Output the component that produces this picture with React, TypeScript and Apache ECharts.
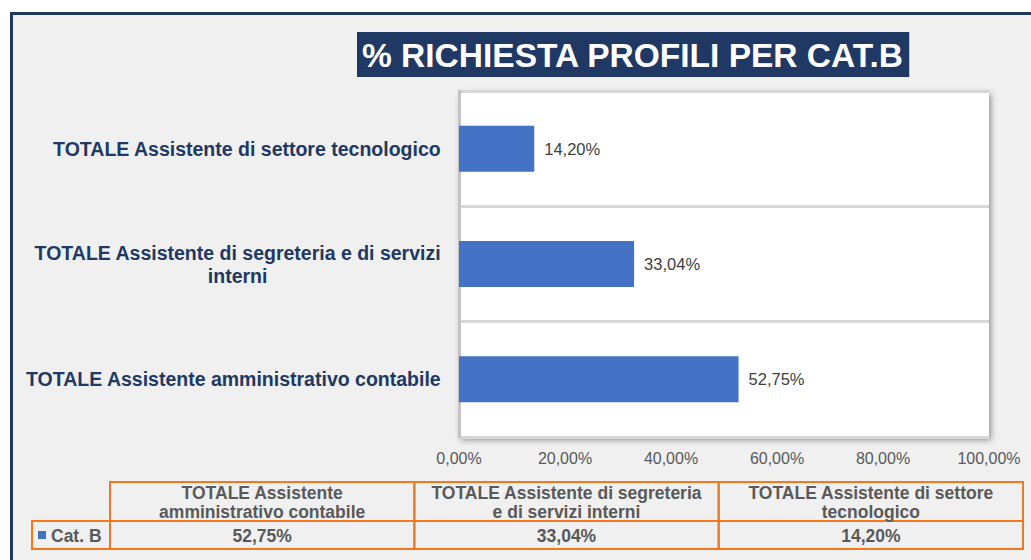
import React, { useEffect, useRef } from "react";
import * as echarts from "echarts";

const categories = [
  "TOTALE Assistente amministrativo contabile",
  "TOTALE Assistente di segreteria e di servizi interni",
  "TOTALE Assistente di settore tecnologico",
];
const seriesName = "Cat. B";
const values = [52.75, 33.04, 14.2];
const axisMin = 0;
const axisMax = 100;
const axisStep = 20;
const titleText = "% RICHIESTA PROFILI PER CAT.B";

const NAVY = "#203864";
const BLUE = "#4472C4";
const ORANGE = "#F8761C";
const GRAY = "#595959";
const FONT = "'Liberation Sans', Arial, sans-serif";

const fmtPct = (v: number) => v.toFixed(2).replace(".", ",") + "%";

function wrap(text: string, font: string, maxW: number): string[] {
  const ctx = document.createElement("canvas").getContext("2d")!;
  ctx.font = font;
  const words = text.split(" ");
  const lines: string[] = [];
  let cur = "";
  for (const w of words) {
    const t = cur ? cur + " " + w : w;
    if (cur && ctx.measureText(t).width > maxW) {
      lines.push(cur);
      cur = w;
    } else cur = t;
  }
  if (cur) lines.push(cur);
  return lines;
}

export default function App() {
  const ref = useRef<HTMLDivElement>(null);
  useEffect(() => {
    document.body.style.margin = "0";
    const chart = echarts.init(ref.current!, null, { renderer: "svg" });

    const tableX = 110;
    const tableRight = 1023;
    const colW = (tableRight - tableX) / categories.length;
    const hdrTop = 482;
    const hdrH = 39;
    const rowH = 28;
    const keyX = 32;
    const tFont = `bold 17.5px ${FONT}`;

    const graphics: any[] = [];
    categories.forEach((c, i) => {
      const x = tableX + i * colW;
      graphics.push({
        type: "rect",
        shape: { x, y: hdrTop, width: colW, height: hdrH },
        style: { fill: "none", stroke: ORANGE, lineWidth: 2 },
      });
      graphics.push({
        type: "rect",
        shape: { x, y: hdrTop + hdrH, width: colW, height: rowH },
        style: { fill: "none", stroke: ORANGE, lineWidth: 2 },
      });
      graphics.push({
        type: "text",
        x: x + colW / 2,
        y: hdrTop + hdrH / 2 + 1,
        style: {
          text: wrap(c, tFont, 282).join("\n"),
          font: tFont,
          fill: GRAY,
          align: "center",
          verticalAlign: "middle",
          lineHeight: 19,
        },
      });
      graphics.push({
        type: "text",
        x: x + colW / 2,
        y: hdrTop + hdrH + rowH / 2 + 1,
        style: {
          text: fmtPct(values[i]),
          font: tFont,
          fill: GRAY,
          align: "center",
          verticalAlign: "middle",
        },
      });
    });
    graphics.push({
      type: "rect",
      shape: { x: keyX, y: hdrTop + hdrH, width: tableX - keyX, height: rowH },
      style: { fill: "none", stroke: ORANGE, lineWidth: 2 },
    });
    graphics.push({
      type: "rect",
      shape: { x: keyX + 6, y: hdrTop + hdrH + 10, width: 8, height: 8 },
      style: { fill: BLUE },
    });
    graphics.push({
      type: "text",
      x: keyX + 19,
      y: hdrTop + hdrH + rowH / 2 + 1,
      style: {
        text: seriesName,
        font: tFont,
        fill: GRAY,
        align: "left",
        verticalAlign: "middle",
      },
    });

    const labelFont = `bold 19.5px ${FONT}`;

    chart.setOption({
      animation: false,
      backgroundColor: "transparent",
      title: {
        text: titleText,
        left: 357,
        top: 32,
        backgroundColor: NAVY,
        padding: [6, 5, 5, 5],
        textStyle: {
          color: "#ffffff",
          fontSize: 33.5,
          fontWeight: "bold",
          fontFamily: FONT,
        },
      },
      grid: {
        left: 459,
        right: 42,
        top: 91,
        bottom: 123,
        show: true,
        z: 0,
        backgroundColor: "#ffffff",
        borderWidth: 0,
        shadowColor: "rgba(0,0,0,0.4)",
        shadowBlur: 6,
        shadowOffsetX: 2,
        shadowOffsetY: 3,
        containLabel: false,
      },
      xAxis: {
        type: "value",
        min: axisMin,
        max: axisMax,
        interval: axisStep,
        axisLine: { show: false },
        axisTick: { show: false },
        splitLine: { show: false },
        axisLabel: {
          formatter: (v: number) => fmtPct(v),
          color: GRAY,
          fontSize: 16,
          fontFamily: FONT,
          margin: 13,
        },
      },
      yAxis: {
        type: "category",
        data: categories,
        z: 1,
        axisTick: { show: false },
        axisLine: {
          show: true,
          lineStyle: { color: "#c4c4c4", width: 3 },
        },
        splitLine: {
          show: true,
          interval: 0,
          lineStyle: { color: "#d6d6d6", width: 3 },
        },
        axisLabel: {
          align: "right",
          margin: 18,
          formatter: (v: string) =>
            wrap(v, labelFont, 440)
              .map((l) => `{c|${l}}`)
              .join("\n"),
          rich: {
            c: {
              align: "center",
              fontSize: 19.5,
              fontWeight: "bold",
              fontFamily: FONT,
              color: NAVY,
              lineHeight: 23,
            },
          },
        },
      },
      series: [
        {
          name: seriesName,
          type: "bar",
          data: values,
          barWidth: 46,
          z: 3,
          itemStyle: { color: BLUE },
          label: {
            show: true,
            position: "right",
            distance: 10,
            formatter: (p: any) => fmtPct(p.value),
            color: "#404040",
            fontSize: 16.5,
            fontFamily: FONT,
          },
        },
      ],
      graphic: graphics,
    });
    return () => chart.dispose();
  }, []);

  return (
    <div
      style={{
        position: "relative",
        width: 1031,
        height: 560,
        overflow: "hidden",
        background: "#ffffff",
      }}
    >
      <div
        style={{
          position: "absolute",
          left: 10,
          top: 12,
          width: 1100,
          height: 700,
          border: `3px solid ${NAVY}`,
          background: "#F0F0F0",
        }}
      />
      <div
        ref={ref}
        style={{ position: "absolute", left: 0, top: 0, width: 1031, height: 560 }}
      />
    </div>
  );
}
